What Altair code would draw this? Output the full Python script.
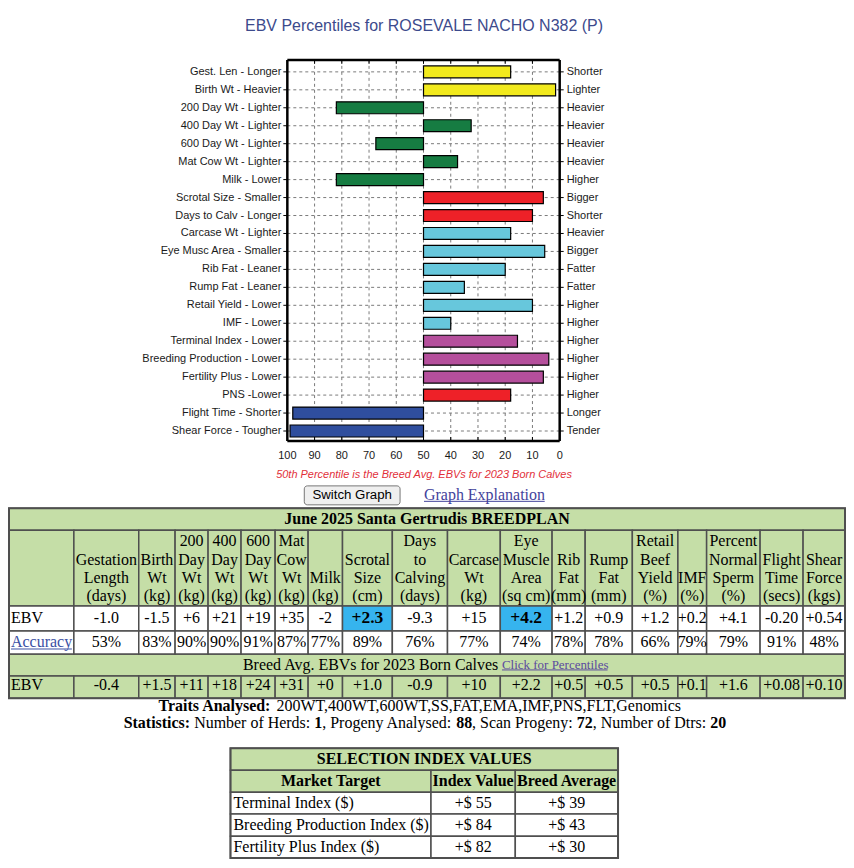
import altair as alt
import pandas as pd

W, H = 840, 852
SANS = "Liberation Sans"
SERIF = "Liberation Serif"
GREEN = "#c5dea7"
HILITE = "#36b4ee"
BORDER = "#4f4f4f"

# ------------------------------------------------------------------ data
chart_title = "EBV Percentiles for ROSEVALE NACHO N382 (P)"
trait_labels = [
    "Gest. Len - Longer", "Birth Wt - Heavier", "200 Day Wt - Lighter",
    "400 Day Wt - Lighter", "600 Day Wt - Lighter", "Mat Cow Wt - Lighter",
    "Milk - Lower", "Scrotal Size - Smaller", "Days to Calv - Longer",
    "Carcase Wt - Lighter", "Eye Musc Area - Smaller", "Rib Fat - Leaner",
    "Rump Fat - Leaner", "Retail Yield - Lower", "IMF - Lower",
    "Terminal Index - Lower", "Breeding Production - Lower",
    "Fertility Plus - Lower", "PNS -Lower", "Flight Time - Shorter",
    "Shear Force - Tougher",
]
direction_labels = [
    "Shorter", "Lighter", "Heavier", "Heavier", "Heavier", "Heavier", "Higher",
    "Bigger", "Shorter", "Heavier", "Bigger", "Fatter", "Fatter", "Higher",
    "Higher", "Higher", "Higher", "Higher", "Higher", "Longer", "Tender",
]
percentiles = [18, 1.5, 82, 32.5, 67.5, 37.5, 82, 6, 10, 18, 5.5, 20, 35, 10,
               40, 15.5, 4, 6, 18, 98, 99]
trait_groups = ["calving", "calving", "growth", "growth", "growth", "growth",
                "growth", "fertility", "fertility", "carcase", "carcase",
                "carcase", "carcase", "carcase", "carcase", "index", "index",
                "index", "fertility", "other", "other"]
group_colors = {"calving": "#f2ea1d", "growth": "#167c42", "fertility": "#ee2128",
                "carcase": "#67c7dc", "index": "#b54f9c", "other": "#2f4e9e"}
breed_average_percentile = 50
x_ticks = [100, 90, 80, 70, 60, 50, 40, 30, 20, 10, 0]
footnote = "50th Percentile is the Breed Avg. EBVs for 2023 Born Calves"
button_label = "Switch Graph"
link_label = "Graph Explanation"

table_title = "June 2025 Santa Gertrudis BREEDPLAN"
col_headers = [
    "Gestation\nLength\n(days)", "Birth\nWt\n(kg)", "200\nDay\nWt\n(kg)",
    "400\nDay\nWt\n(kg)", "600\nDay\nWt\n(kg)", "Mat\nCow\nWt\n(kg)",
    "Milk\n(kg)", "Scrotal\nSize\n(cm)", "Days\nto\nCalving\n(days)",
    "Carcase\nWt\n(kg)", "Eye\nMuscle\nArea\n(sq cm)", "Rib\nFat\n(mm)",
    "Rump\nFat\n(mm)", "Retail\nBeef\nYield\n(%)", "IMF\n(%)",
    "Percent\nNormal\nSperm\n(%)", "Flight\nTime\n(secs)", "Shear\nForce\n(kgs)",
]
ebv_values = ["-1.0", "-1.5", "+6", "+21", "+19", "+35", "-2", "+2.3", "-9.3",
              "+15", "+4.2", "+1.2", "+0.9", "+1.2", "+0.2", "+4.1", "-0.20", "+0.54"]
accuracy_values = ["53%", "83%", "90%", "90%", "91%", "87%", "77%", "89%", "76%",
                   "77%", "74%", "78%", "78%", "66%", "79%", "79%", "91%", "48%"]
breed_avg_values = ["-0.4", "+1.5", "+11", "+18", "+24", "+31", "+0", "+1.0", "-0.9",
                    "+10", "+2.2", "+0.5", "+0.5", "+0.5", "+0.1", "+1.6", "+0.08", "+0.10"]
highlighted = [False] * 7 + [True] + [False] * 2 + [True] + [False] * 7
row_label_ebv = "EBV"
row_label_acc = "Accuracy"
breed_note = "Breed Avg. EBVs for 2023 Born Calves"
breed_link = "Click for Percentiles"

traits_parts = ["Traits Analysed:", "200WT,400WT,600WT,SS,FAT,EMA,IMF,PNS,FLT,Genomics"]
traits_bold = [True, False]
stats_parts = ["Statistics:", "Number of Herds:", "1", ", Progeny Analysed:", "88",
               ", Scan Progeny:", "72", ", Number of Dtrs:", "20"]
stats_bold = [True, False, True, False, True, False, True, False, True]

index_title = "SELECTION INDEX VALUES"
index_headers = ["Market Target", "Index Value", "Breed Average"]
index_targets = ["Terminal Index ($)", "Breeding Production Index ($)", "Fertility Plus Index ($)"]
index_values = ["+$ 55", "+$ 84", "+$ 82"]
index_breed = ["+$ 39", "+$ 43", "+$ 30"]

# ------------------------------------------------------------------ layout helpers
PX = alt.Scale(domain=[0, W], range=[0, W], nice=False, zero=False)
PY = alt.Scale(domain=[0, H], range=[0, H], nice=False, zero=False)
PCT = alt.Scale(domain=[0, 100], range=[553, 280], nice=False, zero=False)
TR = alt.Scale(domain=trait_labels, range=[54, 432], paddingInner=1 / 3, paddingOuter=1 / 6)
FRAME_TOP, FRAME_BOT = 51, 433

# Times-compatible advance widths (per 1000 em) for laying out inline bold/regular runs
REG_W = {' ': 250, ',': 250, ':': 278, 'A': 722, 'D': 722, 'E': 611, 'F': 556, 'G': 722,
         'H': 722, 'I': 333, 'L': 611, 'M': 889, 'N': 722, 'P': 556, 'S': 556, 'T': 611,
         'W': 944, 'a': 444, 'b': 500, 'c': 444, 'd': 500, 'e': 444, 'f': 333, 'g': 500,
         'h': 500, 'i': 278, 'l': 278, 'm': 778, 'n': 500, 'o': 500, 'p': 500, 'r': 333,
         's': 389, 't': 278, 'u': 500, 'y': 500}
BOLD_W = {' ': 250, ':': 333, 'A': 722, 'S': 556, 'T': 667, 'a': 500, 'c': 444, 'd': 556,
          'e': 444, 'i': 278, 'l': 278, 'n': 556, 'r': 444, 's': 389, 't': 333, 'y': 500}


def run_positions(parts, bolds, center, size=16):
    xs, cur = [], 0.0
    for p, b in zip(parts, bolds):
        xs.append(cur)
        tbl = BOLD_W if b else REG_W
        cur += sum(tbl.get(c, 500) for c in p) * size / 1000
        if p.endswith(":"):
            cur += 250 * size / 1000
    start = center - cur / 2
    return [start + x for x in xs]


layers = []


def txt(rows, **kw):
    props = dict(font=SERIF, fontSize=16, color="black", baseline="middle", align="center")
    props.update(kw)
    return alt.Chart(pd.DataFrame(rows)).mark_text(**props).encode(
        x=alt.X("x:Q", scale=PX, axis=None),
        y=alt.Y("y:Q", scale=PY, axis=None),
        text=alt.Text("t:N"))


def rects(rows, **kw):
    return alt.Chart(pd.DataFrame(rows)).mark_rect(**kw).encode(
        x=alt.X("x:Q", scale=PX, axis=None), x2=alt.X2("x2"),
        y=alt.Y("y:Q", scale=PY, axis=None), y2=alt.Y2("y2"),
        fill=alt.Fill("fill:N", scale=None))


def hrules(rows, **kw):
    return alt.Chart(pd.DataFrame(rows)).mark_rule(**kw).encode(
        x=alt.X("x:Q", scale=PX, axis=None), x2=alt.X2("x2"),
        y=alt.Y("y:Q", scale=PY, axis=None))


# ---------------- percentile chart
trait_df = pd.DataFrame({
    "trait": trait_labels, "dir": direction_labels, "pct": percentiles,
    "base": [breed_average_percentile] * len(trait_labels),
    "color": [group_colors[g] for g in trait_groups],
    "lo": [100] * len(trait_labels), "hi": [0] * len(trait_labels),
})
inner_ticks = pd.DataFrame({"v": [t for t in x_ticks if 0 < t < 100]})
edge_ticks = pd.DataFrame({"v": [100, 0]})
tick_df = pd.DataFrame({"v": x_ticks, "lab": [str(t) for t in x_ticks]})
span_df = pd.DataFrame({"lo": [100], "hi": [0]})

YT = alt.Y("trait:N", scale=TR, axis=None, sort=None)

layers.append(alt.Chart(inner_ticks).mark_rule(color="#7a7a7a", strokeDash=[3, 3], strokeWidth=1).encode(
    x=alt.X("v:Q", scale=PCT, axis=None), y=alt.value(FRAME_TOP), y2=alt.value(FRAME_BOT)))
layers.append(alt.Chart(trait_df).mark_rule(color="#7a7a7a", strokeDash=[3, 3], strokeWidth=1).encode(
    y=YT, x=alt.X("lo:Q", scale=PCT, axis=None), x2=alt.X2("hi")))
layers.append(alt.Chart(trait_df).mark_bar(stroke="black", strokeWidth=1.2).encode(
    y=YT, x=alt.X("pct:Q", scale=PCT, axis=None), x2=alt.X2("base"),
    fill=alt.Fill("color:N", scale=None)))
# plot frame
layers.append(alt.Chart(edge_ticks).mark_rule(color="black", strokeWidth=2.5).encode(
    x=alt.X("v:Q", scale=PCT, axis=None), y=alt.value(FRAME_TOP), y2=alt.value(FRAME_BOT)))
layers.append(alt.Chart(span_df).mark_rule(color="black", strokeWidth=2.5).encode(
    x=alt.X("lo:Q", scale=PCT, axis=None), x2=alt.X2("hi"), y=alt.value(FRAME_TOP)))
layers.append(alt.Chart(span_df).mark_rule(color="black", strokeWidth=2.5).encode(
    x=alt.X("lo:Q", scale=PCT, axis=None), x2=alt.X2("hi"), y=alt.value(FRAME_BOT)))
# ticks
layers.append(alt.Chart(trait_df).mark_rule(color="black").encode(
    y=YT, x=alt.value(276), x2=alt.value(280)))
layers.append(alt.Chart(trait_df).mark_rule(color="black").encode(
    y=YT, x=alt.value(553), x2=alt.value(557)))
layers.append(alt.Chart(inner_ticks).mark_rule(color="black").encode(
    x=alt.X("v:Q", scale=PCT, axis=None), y=alt.value(FRAME_TOP), y2=alt.value(FRAME_TOP + 4)))
layers.append(alt.Chart(inner_ticks).mark_rule(color="black").encode(
    x=alt.X("v:Q", scale=PCT, axis=None), y=alt.value(FRAME_BOT - 4), y2=alt.value(FRAME_BOT)))
# labels
layers.append(alt.Chart(trait_df).mark_text(align="right", baseline="middle", font=SANS,
                                            fontSize=11, color="#1a1a1a").encode(
    y=YT, x=alt.value(274), text="trait:N"))
layers.append(alt.Chart(trait_df).mark_text(align="left", baseline="middle", font=SANS,
                                            fontSize=11, color="#1a1a1a").encode(
    y=YT, x=alt.value(560), text="dir:N"))
layers.append(alt.Chart(tick_df).mark_text(align="center", baseline="middle", font=SANS,
                                           fontSize=11, color="#1a1a1a").encode(
    x=alt.X("v:Q", scale=PCT, axis=None), y=alt.value(448), text="lab:N"))
layers.append(txt([dict(x=417, y=17, t=chart_title)], font=SANS, fontSize=16, color="#3c4a8c"))
layers.append(txt([dict(x=417, y=467, t=footnote)], font=SANS, fontSize=11,
                  fontStyle="italic", color="#e2303a"))

# ---------------- button + link
layers.append(rects([dict(x=297, x2=393, y=478, y2=497, fill="#efefef")],
                    stroke="#767676", strokeWidth=1, cornerRadius=3))
layers.append(txt([dict(x=345, y=487.5, t=button_label)], font=SANS, fontSize=13.3))
layers.append(txt([dict(x=417, y=487, t=link_label)], align="left", color="#43439c"))
layers.append(hrules([dict(x=417, x2=538, y=493.5)], color="#43439c", strokeWidth=1))

# ---------------- main table
def fx(r):
    return 1 + (r - 4) * 838 / 844


col_ref = [4, 69.5, 135, 171.7, 205, 238.3, 272.7, 306, 340.7, 391, 446.7, 500,
           552.3, 585.7, 633.3, 679.3, 708.3, 762.3, 805.7, 848]
cx = [fx(r) for r in col_ref]
SH = 9
ry = [r - SH for r in [509.5, 531.5, 607.5, 632.5, 655.5, 677.5, 700]]
mid = [(cx[i] + cx[i + 1]) / 2 for i in range(len(cx) - 1)]

cells = [dict(x=cx[0], x2=cx[-1], y=ry[0], y2=ry[1], fill=GREEN),
         dict(x=cx[0], x2=cx[-1], y=ry[4], y2=ry[5], fill=GREEN)]
for i in range(len(cx) - 1):
    hl = i > 0 and highlighted[i - 1]
    cells.append(dict(x=cx[i], x2=cx[i + 1], y=ry[1], y2=ry[2], fill=GREEN))
    cells.append(dict(x=cx[i], x2=cx[i + 1], y=ry[2], y2=ry[3], fill=HILITE if hl else "white"))
    cells.append(dict(x=cx[i], x2=cx[i + 1], y=ry[3], y2=ry[4], fill="white"))
    cells.append(dict(x=cx[i], x2=cx[i + 1], y=ry[5], y2=ry[6], fill=GREEN))
layers.append(rects(cells, stroke=BORDER, strokeWidth=1.5))
layers.append(rects([dict(x=cx[0], x2=cx[-1], y=ry[0], y2=ry[-1], fill="transparent")],
                    stroke=BORDER, strokeWidth=2))

layers.append(txt([dict(x=fx(426), y=520.7 - SH, t=table_title)], fontWeight="bold"))
head_rows = []
for i, h in enumerate(col_headers):
    lines = h.split("\n")
    for k, line in enumerate(reversed(lines)):
        head_rows.append(dict(x=mid[i + 1], y=597.7 - SH - 18.4 * k, t=line))
layers.append(txt(head_rows))
y_ebv, y_acc, y_breed, y_ebv2 = 619.3 - SH, 643.3 - SH, 666.5 - SH, 686.7 - SH
layers.append(txt([dict(x=mid[i + 1], y=y_ebv, t=v) for i, v in enumerate(ebv_values)
                   if not highlighted[i]]))
layers.append(txt([dict(x=mid[i + 1], y=y_ebv, t=v) for i, v in enumerate(ebv_values)
                   if highlighted[i]], fontWeight="bold", fontSize=17.5))
layers.append(txt([dict(x=mid[i + 1], y=y_acc, t=v) for i, v in enumerate(accuracy_values)]))
layers.append(txt([dict(x=mid[i + 1], y=y_ebv2, t=v) for i, v in enumerate(breed_avg_values)]))
layers.append(txt([dict(x=cx[0] + 2, y=y_ebv, t=row_label_ebv),
                   dict(x=cx[0] + 2, y=y_ebv2, t=row_label_ebv)], align="left"))
layers.append(txt([dict(x=cx[0] + 2, y=y_acc, t=row_label_acc)], align="left", color="#3b50a4"))
layers.append(hrules([dict(x=cx[0] + 2, x2=cx[1] - 2, y=y_acc + 7.2)], color="#3b50a4"))
layers.append(txt([dict(x=fx(498), y=y_breed, t=breed_note)], align="right"))
layers.append(txt([dict(x=fx(501.7), y=y_breed + 0.5, t=breed_link)], align="left",
                  fontSize=13, color="#5b4a9e"))
layers.append(hrules([dict(x=fx(501.7), x2=fx(608.3), y=y_breed + 5)], color="#5b4a9e"))

# ---------------- traits / statistics lines
tx = run_positions(traits_parts, traits_bold, 418.7)
for b in (True, False):
    layers.append(txt([dict(x=tx[i], y=698.5, t=p) for i, p in enumerate(traits_parts)
                       if traits_bold[i] == b], align="left", fontWeight="bold" if b else "normal"))
sx = run_positions(stats_parts, stats_bold, 417.9)
for b in (True, False):
    layers.append(txt([dict(x=sx[i], y=715.8, t=p) for i, p in enumerate(stats_parts)
                       if stats_bold[i] == b], align="left", fontWeight="bold" if b else "normal"))

# ---------------- selection index table
ix = [223, 424, 508.5, 611.5]
iy = [741, 763, 785, 807, 829.3, 851]
icells = [dict(x=ix[0], x2=ix[-1], y=iy[0], y2=iy[1], fill=GREEN)]
for c in range(3):
    icells.append(dict(x=ix[c], x2=ix[c + 1], y=iy[1], y2=iy[2], fill=GREEN))
    for r in range(3):
        icells.append(dict(x=ix[c], x2=ix[c + 1], y=iy[2 + r], y2=iy[3 + r], fill="white"))
layers.append(rects(icells, stroke=BORDER, strokeWidth=1.5))
layers.append(rects([dict(x=ix[0], x2=ix[-1], y=iy[0], y2=iy[-1], fill="transparent")],
                    stroke=BORDER, strokeWidth=2))
layers.append(txt([dict(x=(ix[0] + ix[-1]) / 2, y=(iy[0] + iy[1]) / 2, t=index_title)]
                  + [dict(x=(ix[c] + ix[c + 1]) / 2, y=(iy[1] + iy[2]) / 2, t=h)
                     for c, h in enumerate(index_headers)], fontWeight="bold"))
layers.append(txt([dict(x=ix[0] + 3, y=(iy[2 + r] + iy[3 + r]) / 2, t=t)
                   for r, t in enumerate(index_targets)], align="left"))
layers.append(txt([dict(x=(ix[1] + ix[2]) / 2, y=(iy[2 + r] + iy[3 + r]) / 2, t=v)
                   for r, v in enumerate(index_values)]
                  + [dict(x=(ix[2] + ix[3]) / 2, y=(iy[2 + r] + iy[3 + r]) / 2, t=v)
                     for r, v in enumerate(index_breed)]))

chart = alt.layer(*layers).resolve_scale(x="independent", y="independent").properties(
    width=W, height=H, padding=0, autosize=alt.AutoSizeParams(type="none"), background="white"
).configure_view(strokeWidth=0)

chart.save("out.html", embed_options={"renderer": "svg", "actions": False})
